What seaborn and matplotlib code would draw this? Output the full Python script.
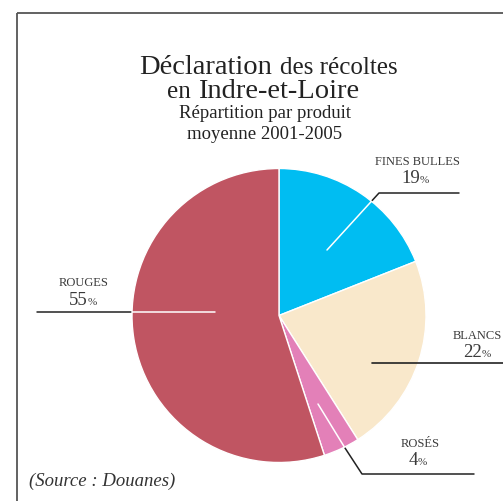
import matplotlib
matplotlib.use("Agg")
import matplotlib.pyplot as plt
import seaborn as sns

# ---- data ----
categories = ["FINES BULLES", "BLANCS", "ROSÉS", "ROUGES"]
shares = [19, 22, 4, 55]
colors = ["#00BDF2", "#F9E8CB", "#E380B8", "#C05562"]
title_line1 = ["Déclaration", "des récoltes"]
title_line2 = ["en", "Indre-et-Loire"]
subtitle_lines = ["Répartition par produit", "moyenne 2001-2005"]
source_text = "(Source : Douanes)"

sns.set_theme(style="white")
plt.rcParams["font.family"] = ["Liberation Serif", "DejaVu Serif"]

W, H = 503, 501
fig = plt.figure(figsize=(W / 100, H / 100), dpi=100)
ax = fig.add_axes([0, 0, 1, 1])

center = (279, 315.5)
R = 147
wedges, _ = ax.pie(shares, colors=colors, startangle=-90, counterclock=True,
                   radius=R, center=center,
                   wedgeprops=dict(edgecolor="white", linewidth=1.0))
ax.set_xlim(0, W)
ax.set_ylim(H, 0)
ax.set_aspect("auto")
ax.axis("off")

# frame lines (left and top)
ax.plot([17.5, 17.5], [H, 12.5], color="#555555", lw=1.3, solid_capstyle="butt")
ax.plot([17.5, W], [12.5, 12.5], color="#555555", lw=1.3, solid_capstyle="butt")

# titles with mixed sizes, centred as a whole
tc = "#222222"
renderer = fig.canvas.get_renderer()


def mixed_line(parts, sizes, cx, baseline, gap):
    texts = [ax.text(0, baseline, p, ha="left", va="baseline", fontsize=s, color=tc)
             for p, s in zip(parts, sizes)]
    widths = [t.get_window_extent(renderer=renderer).width for t in texts]
    total = sum(widths) + gap * (len(texts) - 1)
    x = cx - total / 2
    for t, w in zip(texts, widths):
        t.set_x(x)
        x += w + gap


mixed_line(title_line1, [20.5, 18], 268, 74, 8)
mixed_line(title_line2, [18, 20.5], 263, 97.5, 8)
ax.text(265, 118, subtitle_lines[0], ha="center", va="baseline", fontsize=13.5, color=tc)
ax.text(265, 139, subtitle_lines[1], ha="center", va="baseline", fontsize=13.5, color=tc)

# leader lines: (points, inner part white, wedge index)
leaders = [
    ([(327, 250), (379, 193), (459, 193)], True, 0),
    ([(372, 363), (503, 363)], False, 1),
    ([(318, 404), (345, 448), (362, 474), (474, 474)], True, 2),
    ([(215, 312), (37, 312)], True, 3),
]
for pts, inner_white, wi in leaders:
    xs = [p[0] for p in pts]
    ys = [p[1] for p in pts]
    if inner_white:
        ax.plot(xs, ys, color="#222222", lw=1.1, zorder=0.5)
        ln, = ax.plot(xs, ys, color="white", lw=1.1, zorder=3)
        ln.set_clip_path(wedges[wi])
    else:
        ax.plot(xs, ys, color="#222222", lw=1.2, zorder=3)

# labels: name centre x, name baseline, split x for number/%, number baseline
label_pos = [
    (417.5, 165, 420, 183),
    (477.5, 339, 482, 357),
    (420, 447, 418, 465),
    (83.5, 286, 88, 305),
]
lc = "#3a3a3a"
for cat, val, (cx, by, sx, ny) in zip(categories, shares, label_pos):
    ax.text(cx, by, cat, ha="center", va="baseline", fontsize=9, color=lc)
    ax.text(sx, ny, str(val), ha="right", va="baseline", fontsize=13.5, color=lc)
    ax.text(sx, ny, "%", ha="left", va="baseline", fontsize=8, color=lc)

ax.text(29, 486, source_text, ha="left", va="baseline", fontsize=13.5,
        style="italic", color="#333333")

fig.savefig("out.png", dpi=100)
